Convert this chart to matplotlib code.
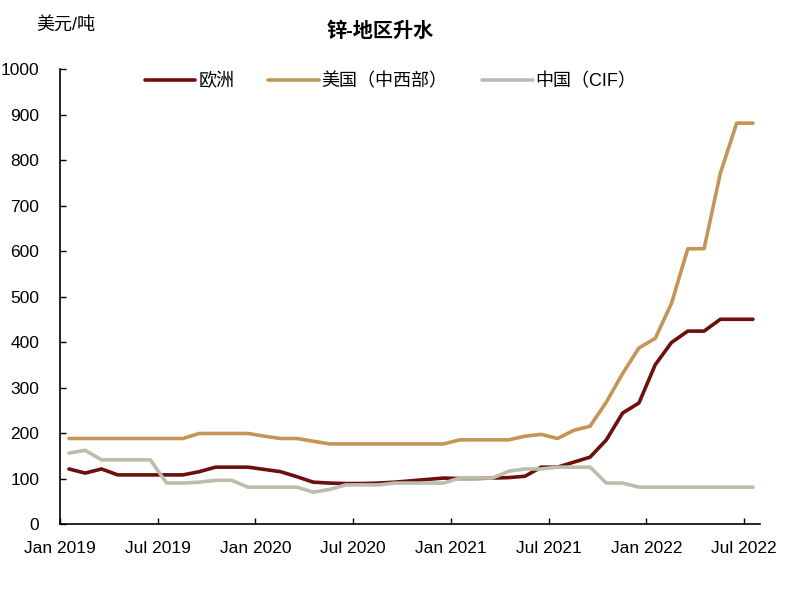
import matplotlib
matplotlib.use("Agg")
import matplotlib.pyplot as plt
import numpy as np

plt.rcParams['font.family'] = ['Liberation Sans', 'Noto Sans CJK SC', 'DejaVu Sans']

# --------------------------------------------------------------- data
# monthly, Jan 2019 .. Jul 2022 (43 points), USD/t
europe = [121, 112, 121, 108, 108, 108, 108, 108, 115, 125, 125, 125,
          120, 115, 104, 92, 90, 89, 89, 90, 92, 95, 98, 101,
          100, 100, 101, 102, 105, 125, 125, 136, 147, 185, 244, 266,
          350, 399, 424, 424, 450, 450, 450]
us_midwest = [188, 188, 188, 188, 188, 188, 188, 188, 199, 199, 199, 199,
              193, 188, 188, 182, 176, 176, 176, 176, 176, 176, 176, 176,
              185, 185, 185, 185, 193, 197, 188, 206, 215, 268, 331, 387,
              408, 485, 605, 605, 771, 881, 881]
china_cif = [156, 162, 141, 141, 141, 141, 90, 90, 92, 96, 96, 81,
             81, 81, 81, 70, 76, 86, 86, 86, 90, 90, 90, 90,
             101, 101, 101, 116, 121, 121, 125, 125, 125, 90, 90, 81,
             81, 81, 81, 81, 81, 81, 81]
tick_labels = ["Jan 2019", "Jul 2019", "Jan 2020", "Jul 2020",
               "Jan 2021", "Jul 2021", "Jan 2022", "Jul 2022"]
series_names = ["欧洲", "美国（中西部）", "中国（CIF）"]

COLORS = ["#6B100C", "#C49557", "#BDBDAE"]

# ------------------------------------------------------------- drawing
x = np.arange(len(europe)) + 0.55

fig = plt.figure(figsize=(8.04, 5.94), dpi=100)
ax = fig.add_axes([0.0746, 0.1178, 0.871, 0.766])

for vals, name, c in zip([europe, us_midwest, china_cif], series_names, COLORS):
    ax.plot(x, vals, color=c, lw=2.6, label=name, solid_capstyle="round")

ax.set_xlim(0, 43)
ax.set_ylim(0, 1000)
ax.set_xticks(np.arange(0, 43, 6))
ax.set_xticklabels(tick_labels)
ax.set_yticks(np.arange(0, 1001, 100))
ax.tick_params(direction="in", labelsize=12.5, length=4, width=1)
ax.tick_params(axis="x", pad=12)
ax.tick_params(axis="y", pad=15)
for s in ("top", "right"):
    ax.spines[s].set_visible(False)
for s in ("left", "bottom"):
    ax.spines[s].set_linewidth(1.2)

ax.legend(loc="upper center", bbox_to_anchor=(0.472, 1.028), ncol=3, frameon=False,
          fontsize=13, handlelength=2.8, columnspacing=1.9, handletextpad=0.15)

fig.text(0.473, 0.948, "锌-地区升水", ha="center", va="center",
         fontsize=14.5, fontweight="bold")
fig.text(0.045, 0.958, "美元/吨", ha="left", va="center", fontsize=13)

fig.savefig("out.png", dpi=100)
